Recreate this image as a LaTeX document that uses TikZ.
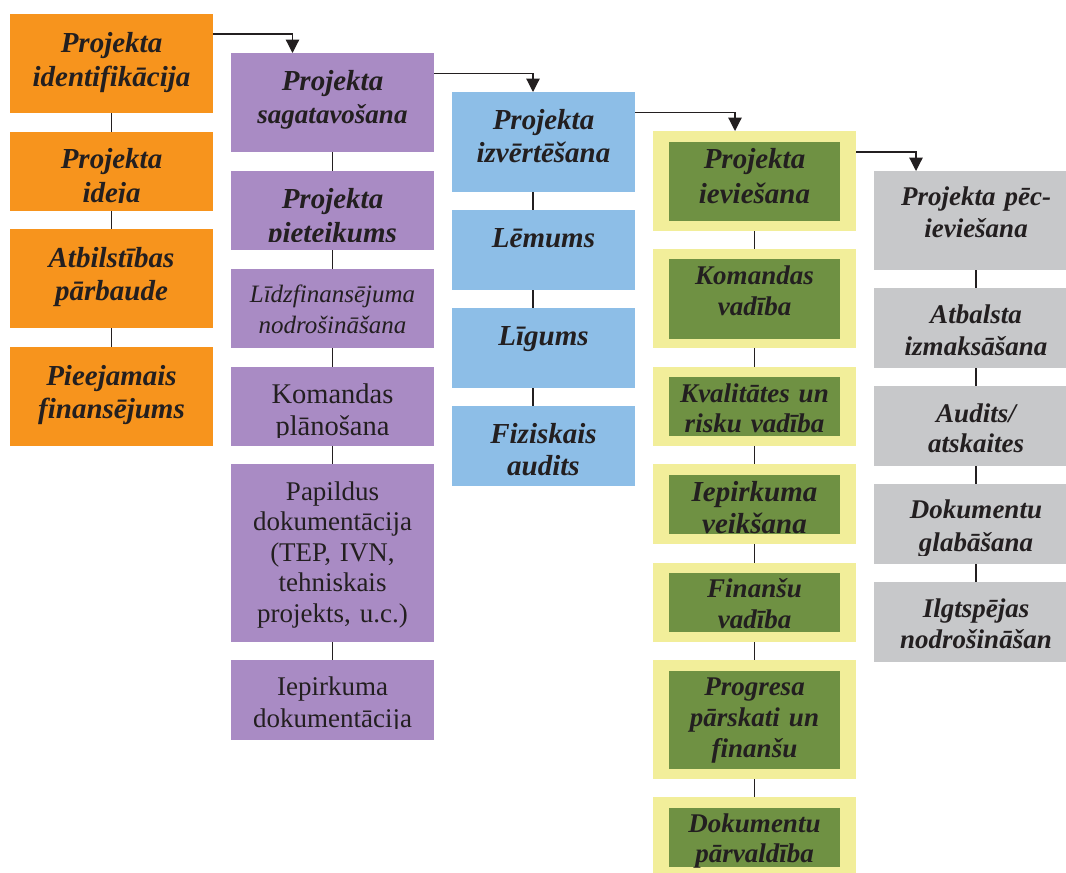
\documentclass[tikz,border=0pt]{standalone}
\usepackage{fontspec}
\setmainfont{Liberation Serif}
\usetikzlibrary{arrows.meta}
\definecolor{orangeC}{HTML}{F7941D}
\definecolor{purpleC}{HTML}{A98BC4}
\definecolor{blueC}{HTML}{8DBEE7}
\definecolor{yellowC}{HTML}{F2EE9A}
\definecolor{greenC}{HTML}{6F9143}
\definecolor{grayC}{HTML}{C7C8CA}
\definecolor{textC}{HTML}{231F20}
\newcommand\bfi[2]{\fontsize{#1}{#2}\selectfont\bfseries\itshape}
\newcommand\rmf[2]{\fontsize{#1}{#2}\selectfont}
\newcommand\itf[2]{\fontsize{#1}{#2}\selectfont\itshape}
\begin{document}
\begin{tikzpicture}[x=1pt,y=-1pt,
  clipinset/.store in=\clipinset, clipinset=9pt,
  box/.style={rectangle, anchor=north west, inner sep=0pt, outer sep=0pt},
  ob/.style={box, fill=orangeC, minimum width=203pt},
  pb/.style={box, fill=purpleC, minimum width=203pt},
  bb/.style={box, fill=blueC, minimum width=183pt},
  yb/.style={box, fill=yellowC, minimum width=203pt},
  gb/.style={box, fill=greenC, minimum width=171pt, clipinset=0pt},
  rb/.style={box, fill=grayC, minimum width=204pt},
  txt/.style={anchor=base, inner sep=0pt, text width=320pt, align=center, text=textC},
  lbl/.style n args={3}{path picture={
      \clip (path picture bounding box.north west) rectangle ([yshift=\clipinset]path picture bounding box.south east);
      \node[txt,font=#2] at ([yshift=-#1]path picture bounding box.north) {#3};}},
  link/.style={draw=textC, line width=1.2pt},
  flow/.style={link, -{Triangle[width=13.5pt,length=13.5pt]}}]
\useasboundingbox (0,0) rectangle (1066,873);

% column 1
\node[ob, minimum height=99pt, lbl={38pt}{\bfi{29}{34}}{Projekta\\identifikācija}] (b1) at (10,14) {};
\node[ob, minimum height=79pt, lbl={36pt}{\bfi{29}{34}}{Projekta\\ideja}] (b2) at (10,132) {};
\node[ob, minimum height=99pt, lbl={38pt}{\bfi{29}{33.5}}{Atbilstības\\pārbaude}] (b3) at (10,229) {};
\node[ob, minimum height=99pt, lbl={38pt}{\bfi{29}{33}}{Pieejamais\\finansējums}] (b4) at (10,347) {};

% column 2
\node[pb, minimum height=99pt, lbl={37pt}{\bfi{29}{33}}{Projekta\\{\fontsize{27}{33}\selectfont sagatavošana}}] (p1) at (231,53) {};
\node[pb, minimum height=79pt, lbl={37pt}{\bfi{29}{34}}{Projekta\\pieteikums}] (p2) at (231,171) {};
\node[pb, minimum height=79pt, lbl={33pt}{\itf{25}{31}}{Līdzfinansējuma\\nodrošināšana}] (p3) at (231,269) {};
\node[pb, minimum height=79pt, lbl={36pt}{\rmf{28.5}{32}}{Komandas\\plānošana}] (p4) at (231,367) {};
\node[pb, minimum height=178pt, lbl={36pt}{\rmf{27}{30.5}}{Papildus\\dokumentācija\\(TEP, IVN,\\tehniskais\\projekts, u.c.)}] (p5) at (231,464) {};
\node[pb, minimum height=80pt, clipinset=12pt, lbl={35pt}{\rmf{27}{32.5}}{Iepirkuma\\dokumentācija}] (p6) at (231,660) {};

% column 3
\node[bb, minimum height=100pt, lbl={37pt}{\bfi{29}{33.5}}{Projekta\\izvērtēšana}] (l1) at (452,92) {};
\node[bb, minimum height=80pt, lbl={37pt}{\bfi{29}{34}}{Lēmums}] (l2) at (452,210) {};
\node[bb, minimum height=80pt, lbl={37pt}{\bfi{29}{34}}{Līgums}] (l3) at (452,308) {};
\node[bb, minimum height=80pt, clipinset=11pt, lbl={37pt}{\bfi{29}{32.5}}{Fiziskais\\audits}] (l4) at (452,406) {};

% column 4
\node[yb, minimum height=100pt] (y1) at (653,131) {};
\node[yb, minimum height=99pt] (y2) at (653,249) {};
\node[yb, minimum height=79pt] (y3) at (653,367) {};
\node[yb, minimum height=80pt] (y4) at (653,464) {};
\node[yb, minimum height=79pt] (y5) at (653,563) {};
\node[yb, minimum height=119pt] (y6) at (653,660) {};
\node[yb, minimum height=80pt] (y7) at (653,797) {};
\node[gb, minimum height=79pt, lbl={26pt}{\bfi{29}{35}}{Projekta\\ieviešana}] (g1) at (669,142) {};
\node[gb, minimum height=80pt, lbl={25pt}{\bfi{27}{31}}{Komandas\\vadība}] (g2) at (669,259) {};
\node[gb, minimum height=59pt, lbl={25pt}{\bfi{27}{30}}{Kvalitātes un\\risku vadība}] (g3) at (669,377) {};
\node[gb, minimum height=59pt, lbl={26pt}{\bfi{29}{32}}{Iepirkuma\\veikšana}] (g4) at (669,475) {};
\node[gb, minimum height=59pt, lbl={24pt}{\bfi{27}{31}}{Finanšu\\vadība}] (g5) at (669,573) {};
\node[gb, minimum height=98pt, lbl={24pt}{\bfi{27}{31}}{Progresa\\pārskati un\\finanšu}] (g6) at (669,671) {};
\node[gb, minimum height=59pt, lbl={24pt}{\bfi{27}{30}}{Dokumentu\\pārvaldība}] (g7) at (669,808) {};

% column 5
\node[rb, minimum height=99pt, lbl={34pt}{\bfi{27}{32}}{Projekta pēc-\\ieviešana}] (r1) at (874,171) {};
\node[rb, minimum height=80pt, lbl={35pt}{\bfi{27}{32}}{Atbalsta\\izmaksāšana}] (r2) at (874,288) {};
\node[rb, minimum height=80pt, lbl={36pt}{\bfi{27}{30}}{Audits/\\atskaites}] (r3) at (874,386) {};
\node[rb, minimum height=80pt, lbl={34pt}{\bfi{27}{33}}{Dokumentu\\glabāšana}] (r4) at (874,484) {};
\node[rb, minimum height=80pt, lbl={35pt}{\bfi{27}{31}}{Ilgtspējas\\nodrošināšan}] (r5) at (874,582) {};

% landing x positions
\coordinate (t1) at (292.5,0);
\coordinate (t2) at (533,0);
\coordinate (t3) at (735,0);
\coordinate (t4) at (916,0);

% vertical connectors
\draw[link] (b1.south) -- (b2.north);
\draw[link] (b2.south) -- (b3.north);
\draw[link] (b3.south) -- (b4.north);
\draw[link] (p1.south) -- (p2.north);
\draw[link] (p2.south) -- (p3.north);
\draw[link] (p3.south) -- (p4.north);
\draw[link] (p4.south) -- (p5.north);
\draw[link] (p5.south) -- (p6.north);
\draw[link] (l1.south -| t2) -- (l2.north -| t2);
\draw[link] (l2.south -| t2) -- (l3.north -| t2);
\draw[link] (l3.south -| t2) -- (l4.north -| t2);
\draw[link] (y1.south) -- (y2.north);
\draw[link] (y2.south) -- (y3.north);
\draw[link] (y3.south) -- (y4.north);
\draw[link] (y4.south) -- (y5.north);
\draw[link] (y5.south) -- (y6.north);
\draw[link] (y6.south) -- (y7.north);
\draw[link] (r1.south) -- (r2.north);
\draw[link] (r2.south) -- (r3.north);
\draw[link] (r3.south) -- (r4.north);
\draw[link] (r4.south) -- (r5.north);

% stage arrows
\draw[flow] ([yshift=-20pt]b1.north east) -| (p1.north -| t1);
\draw[flow] ([yshift=-20.5pt]p1.north east) -| (l1.north -| t2);
\draw[flow] ([yshift=-20.5pt]l1.north east) -| (y1.north -| t3);
\draw[flow] ([yshift=-21pt]y1.north east) -| (r1.north -| t4);
\end{tikzpicture}
\end{document}
